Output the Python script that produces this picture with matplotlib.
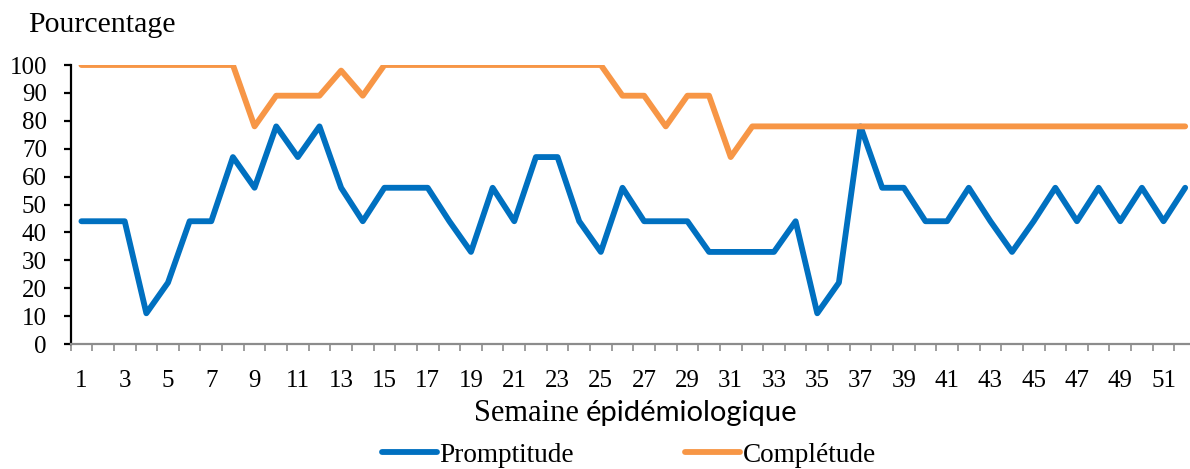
import numpy as np
import matplotlib.pyplot as plt
from matplotlib.ticker import FixedLocator

weeks = np.arange(1, 53)
promptitude = [44, 44, 44, 11, 22, 44, 44, 67, 56, 78, 67, 78, 56, 44, 56, 56, 56, 44, 33, 56,
               44, 67, 67, 44, 33, 56, 44, 44, 44, 33, 33, 33, 33, 44, 11, 22, 78, 56, 56, 44,
               44, 56, 44, 33, 44, 56, 44, 56, 44, 56, 44, 56]
completude = [100, 100, 100, 100, 100, 100, 100, 100, 78, 89, 89, 89, 98, 89, 100, 100, 100, 100,
              100, 100, 100, 100, 100, 100, 100, 89, 89, 78, 89, 89, 67, 78, 78, 78, 78, 78, 78,
              78, 78, 78, 78, 78, 78, 78, 78, 78, 78, 78, 78, 78, 78, 78]

serif = 'Liberation Serif'
blue = '#0070C0'
orange = '#F79646'

fig = plt.figure(figsize=(11.9, 4.69), dpi=100)
ax = fig.add_axes([70.6 / 1190, 125 / 469, (1196 - 70.6) / 1190, 279 / 469])

ax.plot(weeks, promptitude, color=blue, lw=4.2, solid_joinstyle='round', solid_capstyle='round',
        label='Promptitude')
ax.plot(weeks, completude, color=orange, lw=4.2, solid_joinstyle='round', solid_capstyle='round',
        label='Complétude')

ax.set_xlim(0.5, 52.5)
ax.set_ylim(0, 100)
ax.set_yticks(range(0, 101, 10))
ax.xaxis.set_major_locator(FixedLocator(list(range(1, 53, 2))))
ax.xaxis.set_minor_locator(FixedLocator(list(np.arange(0.5, 53, 1))))

for s in ['top', 'right']:
    ax.spines[s].set_visible(False)
ax.spines['left'].set_color('black')
ax.spines['left'].set_linewidth(1.6)
ax.spines['bottom'].set_color('#8c8c8c')
ax.spines['bottom'].set_linewidth(1.6)

ax.tick_params(axis='y', direction='out', length=5, width=1.6, color='black', pad=12)
ax.tick_params(axis='x', which='major', length=0, pad=19)
ax.tick_params(axis='x', which='minor', direction='out', length=5, width=1.2, color='#8c8c8c')
for lab in ax.get_xticklabels() + ax.get_yticklabels():
    lab.set_fontfamily(serif)
    lab.set_fontsize(18)

fig.text(28 / 1190, 1 - 25 / 469, 'Pourcentage', family=serif, fontsize=21.5, va='center', ha='left')
fig.text(586 / 1190, 1 - 413 / 469, 'Semaine ', family=serif, fontsize=22, va='center', ha='right')
fig.text(586 / 1190, 1 - 413 / 469, 'épidémiologique', family='Lato', fontsize=21, va='center', ha='left')

fig.legend(loc='center', bbox_to_anchor=(629 / 1190, 1 - 455 / 469), ncol=2, frameon=False,
           prop={'family': serif, 'size': 19.6}, handlelength=2.0, handletextpad=0.1,
           columnspacing=4.1, borderpad=0)

fig.savefig('out.png', dpi=100)
